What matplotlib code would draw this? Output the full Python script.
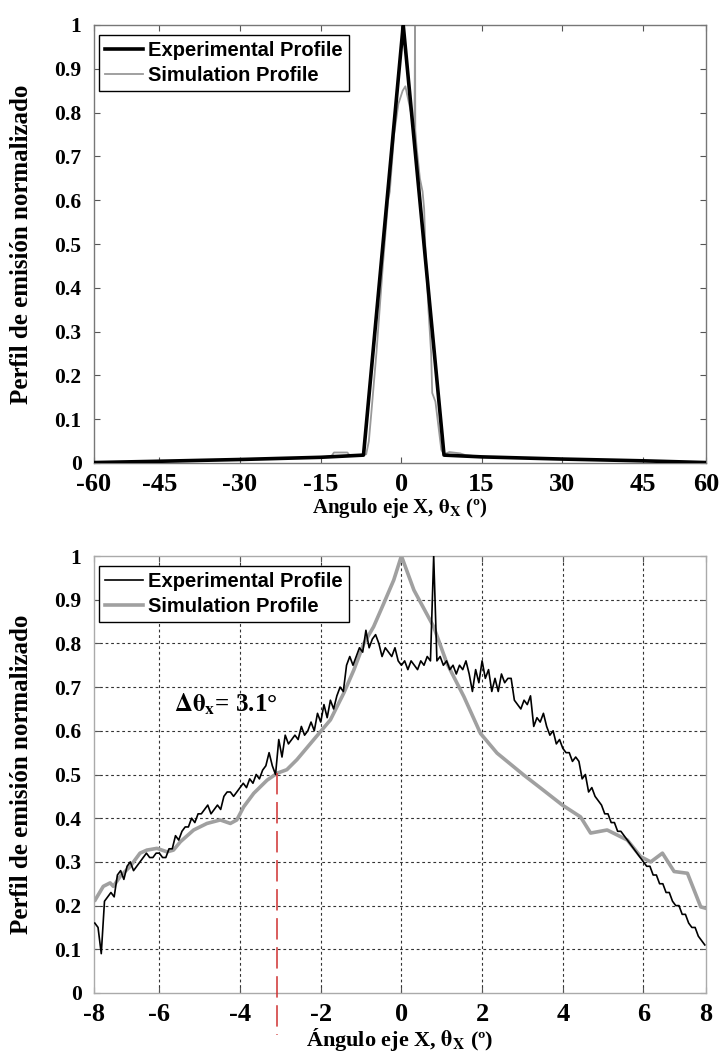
import numpy as np
import matplotlib
matplotlib.use('Agg')
import matplotlib.pyplot as plt

# ---- datos panel superior (rango amplio, -60..60 grados) ----
top_exp_x = [-57.2, -45, -30, -15, -7.0, 0.4, 8.0, 15, 30, 45, 56.8]
top_exp_y = [0.001, 0.004, 0.008, 0.013, 0.018, 1.0, 0.018, 0.014, 0.009, 0.005, 0.001]

top_sim_x = [-57.2, -45, -30, -15, -13, -12.5, -10, -9.5, -6.5, -6.0,
             -5.5, -4.6, -3.4, -2.4, -2.1, -1.3, -0.5, 0.3, 0.8, 1.5,
             2.2, 2.5, 2.6, 2.65, 2.9, 3.5, 4.0, 4.3, 4.5, 5.1,
             5.6, 5.8, 6.4, 6.8, 7.5, 8.0, 9.0, 11.0, 12.0, 15,
             30, 45, 56.8]
top_sim_y = [0.001, 0.004, 0.008, 0.013, 0.015, 0.024, 0.024, 0.016, 0.02, 0.05,
             0.12, 0.25, 0.45, 0.60, 0.62, 0.75, 0.82, 0.85, 0.86, 0.82,
             0.78, 0.77, 1.0, 0.76, 0.72, 0.65, 0.62, 0.58, 0.50, 0.35,
             0.25, 0.16, 0.14, 0.10, 0.03, 0.02, 0.025, 0.022, 0.018, 0.014,
             0.009, 0.005, 0.001]

top_xticks = [-57.2, -45, -30, -15, 0, 15, 30, 45, 56.8]
top_xlabels = ['-60', '-45', '-30', '-15', '0', '15', '30', '45', '60']

# ---- datos panel inferior (zoom -8..8 grados) ----
# perfil experimental muestreado cada 0.08 grados desde -7.60 hasta 7.52
exp_y = [0.16, 0.15, 0.09, 0.21, 0.22, 0.23, 0.22, 0.27, 0.28, 0.26,
         0.29, 0.30, 0.28, 0.29, 0.30, 0.31, 0.32, 0.31, 0.31, 0.32,
         0.32, 0.31, 0.31, 0.33, 0.33, 0.36, 0.35, 0.37, 0.38, 0.38,
         0.40, 0.39, 0.41, 0.41, 0.42, 0.43, 0.41, 0.42, 0.43, 0.42,
         0.45, 0.46, 0.46, 0.45, 0.46, 0.47, 0.48, 0.47, 0.49, 0.48,
         0.50, 0.49, 0.51, 0.52, 0.55, 0.52, 0.50, 0.58, 0.54, 0.59,
         0.57, 0.58, 0.59, 0.58, 0.61, 0.59, 0.60, 0.62, 0.60, 0.64,
         0.62, 0.66, 0.63, 0.67, 0.65, 0.68, 0.70, 0.69, 0.75, 0.77,
         0.75, 0.77, 0.79, 0.78, 0.83, 0.79, 0.81, 0.82, 0.80, 0.77,
         0.79, 0.78, 0.77, 0.79, 0.76, 0.75, 0.76, 0.74, 0.76, 0.75,
         0.74, 0.76, 0.75, 0.77, 0.76, 1.00, 0.76, 0.77, 0.75, 0.76,
         0.74, 0.75, 0.73, 0.75, 0.74, 0.76, 0.73, 0.69, 0.74, 0.71,
         0.76, 0.72, 0.74, 0.69, 0.72, 0.69, 0.73, 0.71, 0.72, 0.72,
         0.67, 0.66, 0.65, 0.67, 0.66, 0.68, 0.61, 0.63, 0.62, 0.64,
         0.61, 0.59, 0.60, 0.57, 0.58, 0.56, 0.55, 0.55, 0.53, 0.54,
         0.53, 0.49, 0.50, 0.46, 0.47, 0.45, 0.44, 0.43, 0.41, 0.41,
         0.39, 0.39, 0.37, 0.37, 0.36, 0.35, 0.34, 0.33, 0.32, 0.31,
         0.30, 0.29, 0.29, 0.27, 0.27, 0.25, 0.25, 0.23, 0.23, 0.21,
         0.20, 0.20, 0.18, 0.18, 0.16, 0.15, 0.15, 0.13, 0.12, 0.11]
exp_x = np.linspace(-7.60, 7.52, len(exp_y))

sim_x = [-7.59, -7.39, -7.22, -7.14, -6.97, -6.72, -6.48, -6.31, -6.06, -5.81,
         -5.65, -5.48, -5.15, -4.82, -4.49, -4.24, -4.08, -3.91, -3.66, -3.33,
         -3.08, -2.84, -2.59, -2.18, -1.76, -1.43, -1.18, -0.93, -0.69, -0.44,
         -0.19, 0.0, 0.31, 0.80, 1.13, 1.55, 1.96, 2.37, 3.03, 3.45,
         3.99, 4.44, 4.69, 5.10, 5.60, 5.93, 6.18, 6.47, 6.76, 7.09,
         7.42, 7.54]
sim_y = [0.213, 0.244, 0.252, 0.244, 0.267, 0.29, 0.32, 0.327, 0.331, 0.323,
         0.327, 0.346, 0.373, 0.388, 0.396, 0.388, 0.396, 0.426, 0.457, 0.487,
         0.503, 0.511, 0.534, 0.579, 0.625, 0.686, 0.739, 0.80, 0.838, 0.891,
         0.945, 1.0, 0.922, 0.838, 0.754, 0.678, 0.594, 0.549, 0.499, 0.469,
         0.43, 0.403, 0.366, 0.373, 0.35, 0.312, 0.30, 0.32, 0.278, 0.274,
         0.197, 0.194]

bot_xticks = [-7.62, -6, -4, -2, 0, 2, 4, 6, 7.55]
bot_xlabels = ['-8', '-6', '-4', '-2', '0', '2', '4', '6', '8']

yticks = [0, 0.1, 0.2, 0.3, 0.4, 0.5, 0.6, 0.7, 0.8, 0.9, 1.0]
ylabels = ['0', '0.1', '0.2', '0.3', '0.4', '0.5', '0.6', '0.7', '0.8', '0.9', '1']

# anchura a mitad de maximo marcada
delta_x = -3.08
delta_y = 0.503

plt.rcParams['font.family'] = ['Liberation Serif', 'DejaVu Serif']
plt.rcParams['font.weight'] = 'bold'
plt.rcParams['axes.labelweight'] = 'bold'
plt.rcParams['mathtext.fontset'] = 'stix'

legend_font = {'family': 'Liberation Sans', 'weight': 'bold', 'size': 14.5}

fig = plt.figure(figsize=(7.22, 10.56), dpi=100)
ax1 = fig.add_axes([94/722, 1-463/1056, 612/722, 438/1056])
ax2 = fig.add_axes([94/722, 1-993/1056, 612/722, 437/1056])

# Panel superior
ax1.plot(top_exp_x, top_exp_y, color='black', lw=2.6, label='Experimental Profile', zorder=3)
ax1.plot(top_sim_x, top_sim_y, color='#999999', lw=1.3, label='Simulation Profile', zorder=2)
ax1.set_xlim(-57.2, 56.8)
ax1.set_ylim(0, 1)
ax1.set_xticks(top_xticks)
ax1.set_xticklabels(top_xlabels)
ax1.set_xlabel('Angulo eje X, $\\mathrm{\\theta}_\\mathrm{X}$ (º)', fontsize=15, labelpad=0)

# Panel inferior
ax2.plot(exp_x, exp_y, color='black', lw=1.2, label='Experimental Profile', zorder=3)
ax2.plot(sim_x, sim_y, color='#a0a0a0', lw=2.6, label='Simulation Profile', zorder=2)
ax2.set_xlim(-7.62, 7.55)
ax2.set_ylim(0, 1)
ax2.set_xticks(bot_xticks)
ax2.set_xticklabels(bot_xlabels)
ax2.set_xlabel('Ángulo eje X, $\\mathrm{\\theta}_\\mathrm{X}$ (º)', fontsize=16, labelpad=0)

ax2.plot([delta_x, delta_x], [delta_y, -0.096], color='#d03030', lw=1.1,
         dashes=(14, 5), clip_on=False, zorder=4)
ax2.text(-4.35, 0.66, '$\\Delta\\mathrm{\\theta}_\\mathrm{x}$= 3.1°', fontsize=18,
         ha='center', va='center')

for ax, spine_col in [(ax1, '#777777'), (ax2, '#aaaaaa')]:
    ax.set_yticks(yticks)
    ax.set_yticklabels(ylabels)
    ax.tick_params(direction='in', top=True, right=True, length=4, width=0.8, color='#555555')
    ax.tick_params(axis='x', labelsize=19, pad=7)
    ax.tick_params(axis='y', labelsize=15.5, pad=9)
    ax.set_ylabel('Perfil de emisión normalizado', fontsize=18)
    ax.yaxis.set_label_coords(-0.1, 0.5)
    for s in ax.spines.values():
        s.set_color(spine_col)
        s.set_linewidth(1.0)
    leg = ax.legend(loc='upper left', bbox_to_anchor=(0.008, 0.978), borderaxespad=0,
                    prop=legend_font, fancybox=False, edgecolor='black', framealpha=1,
                    handlelength=1.9, handletextpad=0.25, borderpad=0.3, labelspacing=0.3)
    leg.get_frame().set_linewidth(1.0)

# rejilla punteada del panel inferior (sin lineas sobre los bordes)
for xv in bot_xticks[1:-1]:
    ax2.axvline(xv, color='#333333', lw=0.8, linestyle=(0, (2.5, 2.5)), zorder=1)
for yv in yticks[1:-1]:
    ax2.axhline(yv, color='#333333', lw=0.8, linestyle=(0, (2.5, 2.5)), zorder=1)

plt.savefig('out.png', dpi=100)
